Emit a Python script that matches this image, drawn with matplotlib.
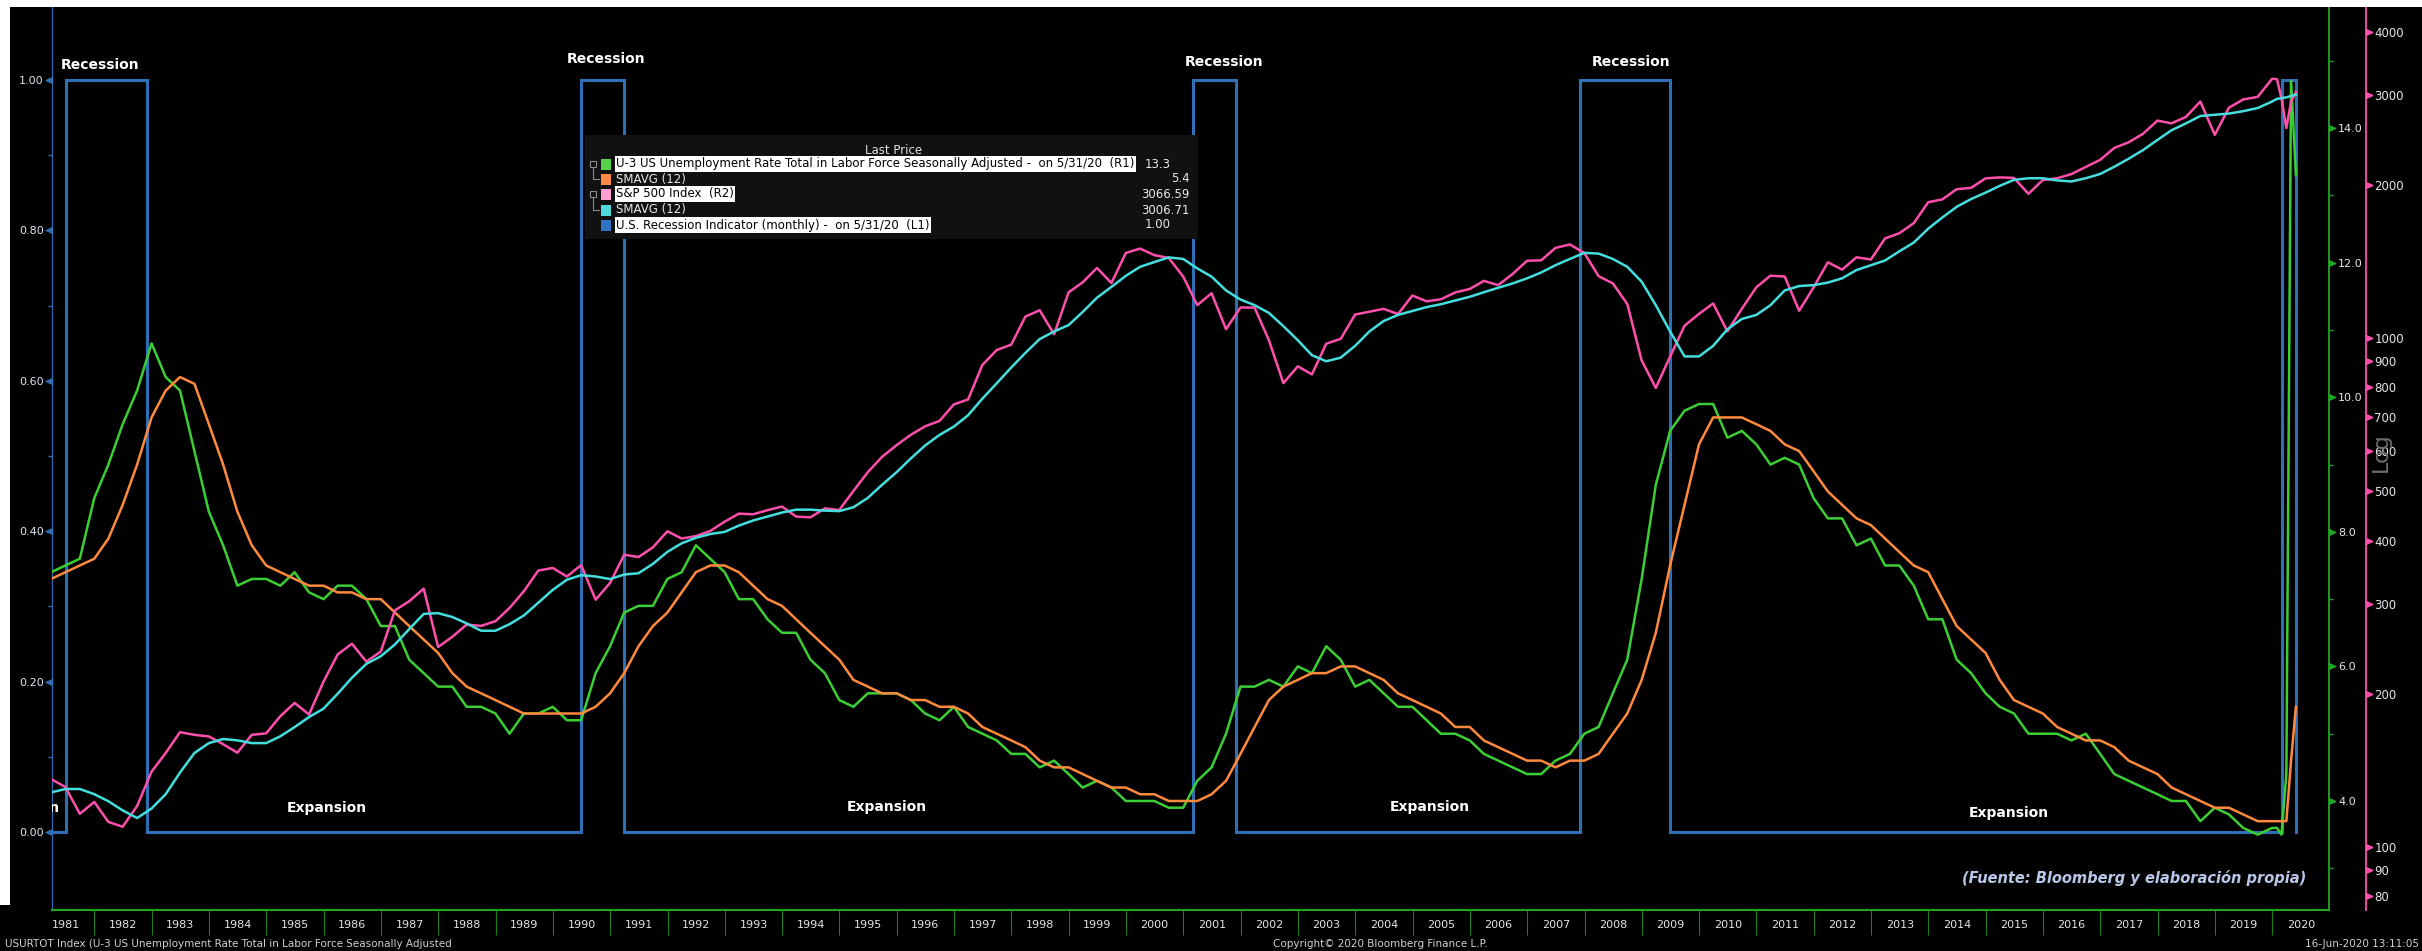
import numpy as np
import pandas as pd
import matplotlib
matplotlib.use("Agg")
import matplotlib.pyplot as plt
from matplotlib.path import Path
from matplotlib.patches import Rectangle

# ---- values: quarter ends 1981..2019, then Jan..May 2020 ----
unemp = [7.4, 7.5, 7.6, 8.5,  9.0, 9.6, 10.1, 10.8,  10.3, 10.1, 9.2, 8.3,
         7.8, 7.2, 7.3, 7.3,  7.2, 7.4, 7.1, 7.0,  7.2, 7.2, 7.0, 6.6,
         6.6, 6.1, 5.9, 5.7,  5.7, 5.4, 5.4, 5.3,  5.0, 5.3, 5.3, 5.4,
         5.2, 5.2, 5.9, 6.3,  6.8, 6.9, 6.9, 7.3,  7.4, 7.8, 7.6, 7.4,
         7.0, 7.0, 6.7, 6.5,  6.5, 6.1, 5.9, 5.5,  5.4, 5.6, 5.6, 5.6,
         5.5, 5.3, 5.2, 5.4,  5.1, 5.0, 4.9, 4.7,  4.7, 4.5, 4.6, 4.4,
         4.2, 4.3, 4.2, 4.0,  4.0, 4.0, 3.9, 3.9,  4.3, 4.5, 5.0, 5.7,
         5.7, 5.8, 5.7, 6.0,  5.9, 6.3, 6.1, 5.7,  5.8, 5.6, 5.4, 5.4,
         5.2, 5.0, 5.0, 4.9,  4.7, 4.6, 4.5, 4.4,  4.4, 4.6, 4.7, 5.0,
         5.1, 5.6, 6.1, 7.3,  8.7, 9.5, 9.8, 9.9,  9.9, 9.4, 9.5, 9.3,
         9.0, 9.1, 9.0, 8.5,  8.2, 8.2, 7.8, 7.9,  7.5, 7.5, 7.2, 6.7,
         6.7, 6.1, 5.9, 5.6,  5.4, 5.3, 5.0, 5.0,  5.0, 4.9, 5.0, 4.7,
         4.4, 4.3, 4.2, 4.1,  4.0, 4.0, 3.7, 3.9,  3.8, 3.6, 3.5, 3.6,
         3.6, 3.5, 4.4, 14.7, 13.3]

unemp_sma = [7.3, 7.4, 7.5, 7.6,  7.9, 8.4, 9.0, 9.7,  10.1, 10.3, 10.2, 9.6,
             9.0, 8.3, 7.8, 7.5,  7.4, 7.3, 7.2, 7.2,  7.1, 7.1, 7.0, 7.0,
             6.8, 6.6, 6.4, 6.2,  5.9, 5.7, 5.6, 5.5,  5.4, 5.3, 5.3, 5.3,
             5.3, 5.3, 5.4, 5.6,  5.9, 6.3, 6.6, 6.8,  7.1, 7.4, 7.5, 7.5,
             7.4, 7.2, 7.0, 6.9,  6.7, 6.5, 6.3, 6.1,  5.8, 5.7, 5.6, 5.6,
             5.5, 5.5, 5.4, 5.4,  5.3, 5.1, 5.0, 4.9,  4.8, 4.6, 4.5, 4.5,
             4.4, 4.3, 4.2, 4.2,  4.1, 4.1, 4.0, 4.0,  4.0, 4.1, 4.3, 4.7,
             5.1, 5.5, 5.7, 5.8,  5.9, 5.9, 6.0, 6.0,  5.9, 5.8, 5.6, 5.5,
             5.4, 5.3, 5.1, 5.1,  4.9, 4.8, 4.7, 4.6,  4.6, 4.5, 4.6, 4.6,
             4.7, 5.0, 5.3, 5.8,  6.5, 7.5, 8.4, 9.3,  9.7, 9.7, 9.7, 9.6,
             9.5, 9.3, 9.2, 8.9,  8.6, 8.4, 8.2, 8.1,  7.9, 7.7, 7.5, 7.4,
             7.0, 6.6, 6.4, 6.2,  5.8, 5.5, 5.4, 5.3,  5.1, 5.0, 4.9, 4.9,
             4.8, 4.6, 4.5, 4.4,  4.2, 4.1, 4.0, 3.9,  3.9, 3.8, 3.7, 3.7,
             3.7, 3.7, 3.7, 4.6, 5.4]

spx = [136.0, 131.2, 116.2, 122.6,  112.0, 109.6, 120.4, 140.6,  153.0, 168.1, 166.1, 164.9,
       159.2, 153.2, 166.1, 167.2,  180.7, 191.9, 182.1, 211.3,  238.9, 250.8, 231.3, 242.2,
       291.7, 304.0, 321.8, 247.1,  258.9, 273.5, 271.9, 277.7,  294.9, 318.0, 349.2, 353.4,
       339.9, 358.0, 306.1, 330.2,  375.2, 371.2, 387.9, 417.1,  403.7, 408.1, 417.8, 435.7,
       451.7, 450.5, 458.9, 466.5,  445.8, 444.3, 462.7, 459.3,  500.7, 544.8, 584.4, 615.9,
       645.5, 670.6, 687.3, 740.7,  757.1, 885.1, 947.3, 970.4,  1101.8, 1133.8, 1017.0, 1229.2,
       1286.4, 1372.7, 1282.7, 1469.3,  1498.6, 1454.6, 1436.5, 1320.3,  1160.3, 1224.4, 1040.9, 1148.1,
       1147.4, 989.8, 815.3, 879.8,  848.2, 974.5, 996.0, 1111.9,  1126.2, 1140.8, 1114.6, 1211.9,
       1180.6, 1191.3, 1228.8, 1248.3,  1294.9, 1270.2, 1335.9, 1418.3,  1420.9, 1503.4, 1526.8, 1468.4,
       1322.7, 1280.0, 1166.4, 903.3,  797.9, 919.3, 1057.1, 1115.1,  1169.4, 1030.7, 1141.2, 1257.6,
       1325.8, 1320.6, 1131.4, 1257.6,  1408.5, 1362.2, 1440.7, 1426.2,  1569.2, 1606.3, 1681.6, 1848.4,
       1872.3, 1960.2, 1972.3, 2058.9,  2067.9, 2063.1, 1920.0, 2043.9,  2059.7, 2098.9, 2168.3, 2238.8,
       2362.7, 2423.4, 2519.4, 2673.6,  2640.9, 2718.4, 2914.0, 2506.9,  2834.4, 2941.8, 2976.7, 3230.8,
       3225.5, 2954.2, 2584.6, 2912.4, 3044.3]

spx_sma = [128, 130, 130, 127,  123, 118, 114, 119,  127, 140, 153, 160,
           163, 162, 160, 160,  165, 172, 180, 187,  200, 215, 229, 237,
           250, 268, 287, 288,  283, 275, 266, 266,  274, 285, 302, 320,
           335, 342, 340, 336,  343, 345, 360, 380,  395, 405, 412, 416,
           428, 438, 446, 454,  460, 460, 458, 457,  465, 485, 515, 545,
           580, 615, 645, 670,  705, 760, 815, 875,  935, 995, 1030, 1060,
           1125, 1200, 1260, 1325,  1380, 1410, 1440, 1430,  1370, 1320, 1240, 1190,
           1160, 1120, 1055, 990,  925, 900, 915, 965,  1030, 1080, 1110, 1130,
           1150, 1165, 1185, 1205,  1230, 1255, 1280, 1310,  1345, 1390, 1430, 1470,
           1465, 1430, 1380, 1290,  1160, 1030, 920, 920,  965, 1040, 1090, 1110,
           1160, 1240, 1265, 1270,  1285, 1310, 1360, 1390,  1420, 1480, 1540, 1640,
           1725, 1810, 1875, 1930,  1990, 2045, 2060, 2060,  2040, 2030, 2060, 2100,
           2170, 2250, 2340, 2450,  2560, 2640, 2730, 2745,  2760, 2790, 2830, 2915,
           2950, 2960, 2970, 2990, 3007]

rec_start = ["1981-07", "1990-07", "2001-03", "2007-12", "2020-03"]
rec_end = ["1982-11", "1991-03", "2001-11", "2009-06", "2020-05"]

years = list(range(1981, 2021))

legend_labels = ["U-3 US Unemployment Rate Total in Labor Force Seasonally Adjusted -  on 5/31/20  (R1)",
                 "SMAVG (12)", "S&P 500 Index  (R2)", "SMAVG (12)",
                 "U.S. Recession Indicator (monthly) -  on 5/31/20  (L1)"]
legend_values = ["13.3", "5.4", "3066.59", "3006.71", "1.00"]

# ---- colours ----
GREEN = "#3ccf34"
ORANGE = "#ff8a3d"
PINK = "#ff4fad"
CYAN = "#45dede"
BLUE = "#2e6fb6"
AXGREEN = "#23a523"


def dec_year(d):
    d = pd.DatetimeIndex(d)
    return np.asarray(d.year + (d.dayofyear - 1) / np.where(d.is_leap_year, 366.0, 365.0))


months = [f"{y}-{m:02d}" for y in range(1981, 2020) for m in (3, 6, 9, 12)]
months += [f"2020-{m:02d}" for m in range(1, 6)]
x = dec_year(pd.to_datetime(months) + pd.offsets.MonthEnd(0))

rx, ry = [1980.9], [0.0]
for s, e in zip(rec_start, rec_end):
    xs = dec_year([pd.Timestamp(s)])[0]
    xe = dec_year([pd.Timestamp(e) + pd.offsets.MonthEnd(0)])[0]
    rx += [xs, xs, xe, xe]
    ry += [0, 1, 1, 0]

W, H = 2422, 951
fig = plt.figure(figsize=(W / 100, H / 100), dpi=100, facecolor="black")

# white strips top / left like the screenshot
fig.patches.append(Rectangle((0, 1 - 7 / H), 1, 7 / H, transform=fig.transFigure,
                             facecolor="white", edgecolor="none"))
fig.patches.append(Rectangle((0, 1 - 905 / H), 10 / W, 905 / H, transform=fig.transFigure,
                             facecolor="white", edgecolor="none"))

ax = fig.add_axes([52 / W, 1 - 910 / H, (2329 - 52) / W, (910 - 7) / H], facecolor="black")
ax2 = ax.twinx()
ax3 = ax.twinx()

TRI_L = Path([(0, -0.45), (-1, 0), (0, 0.45), (0, -0.45)],
             [Path.MOVETO, Path.LINETO, Path.LINETO, Path.CLOSEPOLY])
TRI_R = Path([(0, -0.45), (1, 0), (0, 0.45), (0, -0.45)],
             [Path.MOVETO, Path.LINETO, Path.LINETO, Path.CLOSEPOLY])

# recession indicator (L1)
ax.plot(rx, ry, color=BLUE, lw=2.2, solid_joinstyle="miter")

# unemployment (R1)
ax2.plot(x, unemp, color=GREEN, lw=1.8)
ax2.plot(x, unemp_sma, color=ORANGE, lw=1.8)

# S&P 500 (R2, log)
ax3.set_yscale("log")
ax3.plot(x, spx, color=PINK, lw=1.8)
ax3.plot(x, spx_sma, color=CYAN, lw=1.8)

# spines
for s in ["top", "right"]:
    ax.spines[s].set_visible(False)
ax.spines["left"].set_color(BLUE)
ax.spines["bottom"].set_color(AXGREEN)
ax.spines["bottom"].set_linewidth(1.5)
for a in (ax2, ax3):
    for s in ["top", "left", "bottom"]:
        a.spines[s].set_visible(False)
ax2.spines["right"].set_color(AXGREEN)
ax2.spines["right"].set_linewidth(1.3)
ax3.spines["right"].set_color(PINK)
ax3.spines["right"].set_linewidth(1.3)
ax3.spines["right"].set_position(("outward", 37 * 0.72))

# x axis: year boundaries + labels mid-year
ax.set_xticks(years, labels=[""] * len(years))
ax.set_xticks([y + 0.5 for y in years], labels=[str(y) for y in years], minor=True)
ax.tick_params(axis="x", which="major", length=18, width=0.8, color="#1b7d1b", direction="out")
ax.tick_params(axis="x", which="minor", length=0, pad=7, labelsize=8, labelcolor="#e4e4e4")

# left axis
lt = [0.0, 0.2, 0.4, 0.6, 0.8, 1.0]
ax.set_yticks(lt, labels=[f"{v:.2f}" for v in lt])
ax.set_yticks([0.1, 0.3, 0.5, 0.7, 0.9], minor=True)
ax.tick_params(axis="y", which="major", length=4.5, width=1, color=BLUE, pad=1.5,
               labelsize=8, labelcolor="#dce6f2")
ax.tick_params(axis="y", which="minor", length=3, width=1, color=BLUE)
for t in ax.yaxis.get_major_ticks():
    t.tick1line.set_marker(TRI_L)
    t.tick1line.set_markersize(9)
    t.tick1line.set_markerfacecolor(BLUE)

# R1
r1 = [4, 6, 8, 10, 12, 14]
ax2.set_yticks(r1, labels=[f"{v:.1f}" for v in r1])
ax2.set_yticks([3, 5, 7, 9, 11, 13, 15], minor=True)
ax2.tick_params(axis="y", which="major", length=4.5, width=1, color=AXGREEN, pad=2,
                labelsize=8, labelcolor="#e6e6e6")
ax2.tick_params(axis="y", which="minor", length=3, width=1, color=AXGREEN)
for t in ax2.yaxis.get_major_ticks():
    t.tick2line.set_marker(TRI_R)
    t.tick2line.set_markersize(9)
    t.tick2line.set_markerfacecolor(AXGREEN)

# R2
r2 = [80, 90, 100, 200, 300, 400, 500, 600, 700, 800, 900, 1000, 2000, 3000, 4000]
ax3.set_yticks(r2, labels=[str(v) for v in r2])
ax3.yaxis.set_minor_locator(matplotlib.ticker.NullLocator())
ax3.tick_params(axis="y", which="major", length=4.5, width=1, color=PINK, pad=1.5,
                labelsize=8.5, labelcolor="#e6e6e6")
for t in ax3.yaxis.get_major_ticks():
    t.tick2line.set_marker(TRI_R)
    t.tick2line.set_markersize(9)
    t.tick2line.set_markerfacecolor(PINK)

# limits last (set_ticks may widen them)
ax.set_xlim(1981.26, 2020.99)
ax.set_ylim(-0.1037, 1.0971)
ax2.set_ylim(2.38, 15.80)
ax3.set_ylim(75.2, 4470)

# annotations
for xp, yp in [(1982.10, 1.020), (1990.93, 1.028), (2001.71, 1.024), (2008.81, 1.024)]:
    ax.text(xp, yp, "Recession", color="white", fontsize=10, fontweight="bold",
            ha="center", va="center")
for xp, yp in [(1980.70, 0.032), (1986.06, 0.032), (1995.83, 0.033), (2005.30, 0.033), (2015.40, 0.025)]:
    t = ax.text(xp, yp, "Expansion", color="white", fontsize=10, fontweight="bold",
                ha="center", va="center", clip_on=True)
    t.set_clip_box(ax.bbox)

ax3.text(0.990, 0.0355, "(Fuente: Bloomberg y elaboración propia)", transform=ax3.transAxes,
         ha="right", va="center", color="#b8c6e8", fontsize=10.5, fontweight="bold",
         fontstyle="italic")

fig.text(2381 / W, 1 - 452 / H, "Log", rotation=90, color="#6e6e6e", fontsize=16,
         ha="center", va="center")

# footer
fig.text(5 / W, 1 - 944 / H, "USURTOT Index (U-3 US Unemployment Rate Total in Labor Force Seasonally Adjusted",
         fontsize=7.5, color="#d0d0d0", va="center")
fig.text(1273 / W, 1 - 944 / H, "Copyright© 2020 Bloomberg Finance L.P.",
         fontsize=7.5, color="#d0d0d0", va="center")
fig.text(2419 / W, 1 - 944 / H, "16-Jun-2020 13:11:05",
         fontsize=7.5, color="#d0d0d0", va="center", ha="right")

# legend panel (pixel coordinates inside)
lax = fig.add_axes([585 / W, 1 - 239 / H, (1198 - 585) / W, (239 - 135) / H])
lax.set_xlim(585, 1198)
lax.set_ylim(239, 135)
lax.axis("off")
lax.add_patch(Rectangle((585, 135), 613, 104, facecolor="#111111", edgecolor="none"))
lax.text(894, 150, "Last Price", ha="center", va="center", color="#e0e0e0", fontsize=8.5)
row_y = [164, 179, 194, 210, 225]
sq_cols = ["#55d24a", "#ff8a45", "#ffa0d4", "#4fd9d9", "#2f74c4"]
for i, (lab, val) in enumerate(zip(legend_labels, legend_values)):
    y = row_y[i]
    lax.add_patch(Rectangle((601, y - 5.5), 10, 11, facecolor=sq_cols[i], edgecolor="none"))
    if i in (0, 2, 4):
        lax.text(616, y, lab, ha="left", va="center", color="black", fontsize=8.5,
                 bbox=dict(facecolor="white", edgecolor="none", pad=1.0))
    else:
        lax.text(616, y, lab, ha="left", va="center", color="#e8e8e8", fontsize=8.5)
    vx = 1171 if i in (0, 4) else 1190
    lax.text(vx, y, val, ha="right", va="center", color="#e8e8e8", fontsize=8.5)
for i in (0, 2):
    y0, y1 = row_y[i], row_y[i + 1]
    lax.add_patch(Rectangle((589.5, y0 - 3), 6, 6, facecolor="none", edgecolor="#8a8a8a", lw=0.8))
    lax.plot([592.5, 592.5, 599], [y0 + 3, y1, y1], color="#8a8a8a", lw=0.8)

fig.savefig("out.png", dpi=100, facecolor="black")
